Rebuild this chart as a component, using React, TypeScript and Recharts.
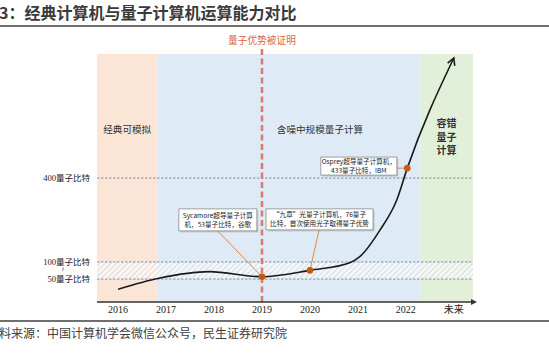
import React from 'react';
import {
  ComposedChart,
  Line,
  Scatter,
  XAxis,
  YAxis,
  ReferenceArea,
  ReferenceLine,
  ReferenceDot,
} from 'recharts';

// x: 0 = 2016 ... 6 = 2022, 7 = 未来 ; y: schematic capability level (0-100)
const yearTicks = [0, 1, 2, 3, 4, 5, 6, 7];
const yearLabels = ['2016', '2017', '2018', '2019', '2020', '2021', '2022', '未来'];

const curveX = [0, 0.85, 1.9, 3, 4, 4.83, 5.04, 5.46, 5.81, 6.03, 7];
const curveY = [5.0, 9.3, 11.9, 9.9, 12.4, 15.4, 17.8, 28.2, 40.0, 52.5, 95.7];

const milestoneX = [3, 4, 6.03];
const milestoneY = [9.9, 12.4, 52.5];

const levelValues = [9.0, 12.9, 15.7, 48.6];
const levelLabels = ['50量子比特', '', '100量子比特', '400量子比特'];

const eraNames = [['经典可模拟'], ['含噪中规模量子计算'], ['容错', '量子', '计算']];
const eraStart = [-0.44, 0.83, 6.31];
const eraEnd = [0.83, 6.31, 7.4];
const eraTop = 97.3;
const eraColors = ['#FBE5D6', '#DEEBF7', '#E2F0D9'];
const eraLabelX = [0.19, 4.21, 6.85];
const eraLabelY = [67.5, 67.5, 64.7];

const advantageYear = 3;
const advantageLabel = '量子优势被证明';

const noteLines = [
  ['Sycamore超导量子计算', '机，53量子比特，谷歌'],
  ['“九章”光量子计算机，76量子', '比特，首次使用光子取得量子优势'],
  ['Osprey超导量子计算机，', '433量子比特，IBM'],
];
const noteX = [2.08, 4.2, 5.02];
const noteY = [32.2, 32.4, 53.3];
const linkFromX = [2.08, 4.19, 5.81];
const linkFromY = [27.8, 28.2, 52.5];

const noteW = [78, 107, 76];
const noteH = [22, 21, 18];

const curve = curveX.map((x, i) => ({ x, y: curveY[i] }));
const milestones = milestoneX.map((x, i) => ({ x, y: milestoneY[i] }));

const SANS = '"Noto Sans CJK SC", "Noto Sans", sans-serif';
const SERIF = '"Liberation Serif", "DejaVu Serif", "Noto Sans CJK SC", serif';
const arrowDeg = -68;

const LevelTick = (p: any) => {
  const i = levelValues.indexOf(p.payload.value);
  const label = levelLabels[i];
  if (!label) {
    return (
      <line x1={p.x - 26.5} y1={p.y + 1.5} x2={p.x - 25.5} y2={p.y - 1.5} stroke="#444" strokeWidth={0.8} />
    );
  }
  return (
    <text x={p.x + 1} y={p.y} dy="0.35em" textAnchor="end" fontSize={8.5} fontFamily={SERIF} fill="#222">
      {label}
    </text>
  );
};

const HatchBand = (p: any) => (
  <g>
    <defs>
      <pattern id="hatch" width="4" height="4" patternUnits="userSpaceOnUse" patternTransform="rotate(45)">
        <rect width="4" height="4" fill="#ffffff" fillOpacity={0.6} />
        <line x1="0" y1="0" x2="0" y2="4" stroke="#bcc3cc" strokeWidth={1} />
      </pattern>
    </defs>
    <rect x={p.x} y={p.y} width={p.width} height={p.height} fill="url(#hatch)" />
  </g>
);

const makeNote = (i: number) => (p: any) => {
  const w = noteW[i];
  const h = noteH[i];
  const lines = noteLines[i];
  return (
    <g>
      <rect x={p.cx - w / 2 + 1.5} y={p.cy - h / 2 + 1.5} width={w} height={h} fill="#9a9a9a" fillOpacity={0.45} />
      <rect x={p.cx - w / 2} y={p.cy - h / 2} width={w} height={h} fill="#fff" stroke="#8c8c8c" strokeWidth={0.8} />
      {lines.map((t, k) => (
        <text
          key={k}
          x={p.cx}
          y={p.cy + (k - (lines.length - 1) / 2) * 8.6}
          dy="0.35em"
          textAnchor="middle"
          fontSize={6.6}
          fontFamily={SANS}
          fill="#222"
        >
          {t}
        </text>
      ))}
    </g>
  );
};

const makeEraLabel = (i: number) => (p: any) => {
  const lines = eraNames[i];
  const multi = lines.length > 1;
  return (
    <g>
      {lines.map((t, k) => (
        <text
          key={k}
          x={p.cx}
          y={p.cy + (k - (lines.length - 1) / 2) * 13.5}
          dy="0.35em"
          textAnchor="middle"
          fontSize={multi ? 10 : 9.6}
          fontWeight={multi ? 600 : 400}
          fontFamily={SANS}
          fill="#333"
        >
          {t}
        </text>
      ))}
    </g>
  );
};

const ArrowDot = (p: any) => {
  if (p.index !== curveX.length - 1) return <g key={p.key} />;
  const a = (arrowDeg * Math.PI) / 180;
  const len = 8;
  const spread = 0.5;
  const b1 = a + Math.PI - spread;
  const b2 = a + Math.PI + spread;
  return (
    <path
      key={p.key}
      d={`M${p.cx + len * Math.cos(b1)},${p.cy + len * Math.sin(b1)} L${p.cx},${p.cy} L${p.cx + len * Math.cos(b2)},${p.cy + len * Math.sin(b2)}`}
      fill="none"
      stroke="#1a1a1a"
      strokeWidth={1.6}
    />
  );
};

const AxisArrow = (p: any) => (
  <path d={`M${p.cx - 2},${p.cy - 3} L${p.cx + 4},${p.cy} L${p.cx - 2},${p.cy + 3} Z`} fill="#333" />
);

const MilestoneDot = (p: any) => <circle cx={p.cx} cy={p.cy} r={3.3} fill="#C55A11" />;

export default function App() {
  return (
    <div style={{ position: 'absolute', left: 0, top: 0, width: 549, height: 355, background: '#fff', overflow: 'hidden' }}>
      <div
        style={{
          position: 'absolute',
          left: -1,
          top: 2,
          fontFamily: SANS,
          fontSize: 16,
          fontWeight: 700,
          color: '#3a3a3a',
          lineHeight: '20px',
          whiteSpace: 'nowrap',
        }}
      >
        3：经典计算机与量子计算机运算能力对比
      </div>
      <div style={{ position: 'absolute', left: 0, top: 25, width: 549, height: 1.5, background: '#6f6f6f' }} />

      <ComposedChart
        width={549}
        height={355}
        data={curve}
        margin={{ top: 47, right: 76, bottom: 33, left: 0 }}
        style={{ position: 'absolute', left: 0, top: 0 }}
      >
        <XAxis
          dataKey="x"
          type="number"
          domain={[-0.44, 7.4]}
          ticks={yearTicks}
          tickFormatter={(v: number) => yearLabels[v]}
          interval={0}
          height={20}
          axisLine={{ stroke: '#333', strokeWidth: 1.5 }}
          tickLine={false}
          tickSize={2}
          tickMargin={2}
          tick={{ fill: '#222', fontSize: 10, fontFamily: SERIF }}
          allowDataOverflow
        />
        <YAxis
          type="number"
          domain={[0, 100]}
          ticks={levelValues}
          width={97}
          axisLine={false}
          tickLine={false}
          tick={<LevelTick />}
          interval={0}
          allowDataOverflow
        />

        {eraStart.map((s, i) => (
          <ReferenceArea
            key={'era' + i}
            x1={s}
            x2={eraEnd[i]}
            y1={0}
            y2={eraTop}
            fill={eraColors[i]}
            fillOpacity={1}
            stroke="none"
            ifOverflow="visible"
          />
        ))}

        <ReferenceArea
          x1={-0.44}
          x2={7.4}
          y1={levelValues[0]}
          y2={levelValues[2]}
          shape={<HatchBand />}
          ifOverflow="visible"
        />
        {[levelValues[0], levelValues[2], levelValues[3]].map((v, i) => (
          <ReferenceLine key={'lv' + i} y={v} stroke="#7f93b0" strokeWidth={1} strokeDasharray="2.5 1.5" />
        ))}

        {eraNames.map((_, i) => (
          <ReferenceDot
            key={'el' + i}
            x={eraLabelX[i]}
            y={eraLabelY[i]}
            r={0}
            shape={makeEraLabel(i)}
            ifOverflow="visible"
          />
        ))}

        <ReferenceLine
          x={advantageYear}
          stroke="#D77A72"
          strokeWidth={2.5}
          strokeDasharray="6 3.5"
          label={{
            value: advantageLabel,
            position: 'top',
            offset: 3,
            fill: '#D9664F',
            fontSize: 9.7,
            fontFamily: SANS,
          }}
        />

        {noteLines.map((_, i) => (
          <ReferenceLine
            key={'lk' + i}
            segment={[
              { x: linkFromX[i], y: linkFromY[i] },
              { x: milestoneX[i], y: milestoneY[i] },
            ]}
            stroke="#E0874A"
            strokeWidth={1}
            ifOverflow="visible"
          />
        ))}

        <Line
          dataKey="y"
          type="monotone"
          stroke="#1a1a1a"
          strokeWidth={1.6}
          dot={ArrowDot}
          activeDot={false}
          isAnimationActive={false}
        />

        <Scatter data={milestones} dataKey="y" shape={MilestoneDot} isAnimationActive={false} />

        {noteLines.map((_, i) => (
          <ReferenceDot
            key={'nb' + i}
            x={noteX[i]}
            y={noteY[i]}
            r={0}
            shape={makeNote(i)}
            ifOverflow="visible"
          />
        ))}

        <ReferenceDot x={7.4} y={0} r={0} shape={AxisArrow} ifOverflow="visible" />
      </ComposedChart>

      <div style={{ position: 'absolute', left: 0, top: 320, width: 549, height: 1.5, background: '#6f6f6f' }} />
      <div
        style={{
          position: 'absolute',
          left: -1,
          top: 325,
          fontFamily: SANS,
          fontSize: 12,
          color: '#404040',
          lineHeight: '16px',
          whiteSpace: 'nowrap',
        }}
      >
        料来源：中国计算机学会微信公众号，民生证券研究院
      </div>
    </div>
  );
}
